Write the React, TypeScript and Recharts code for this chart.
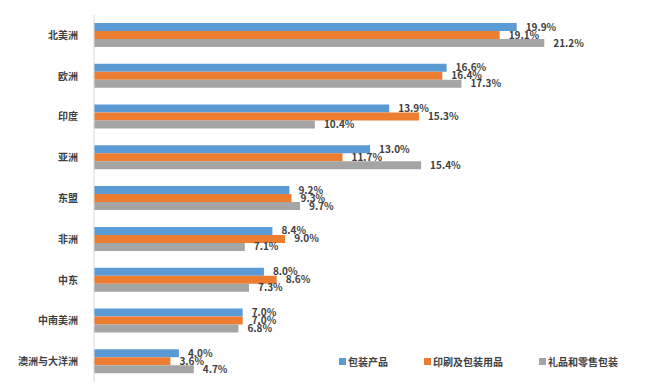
import React from 'react';
import { BarChart, Bar, XAxis, YAxis, LabelList } from 'recharts';

const regions = ['北美洲', '欧洲', '印度', '亚洲', '东盟', '非洲', '中东', '中南美洲', '澳洲与大洋洲'];
const packaging = [19.9, 16.6, 13.9, 13.0, 9.2, 8.4, 8.0, 7.0, 4.0];
const printing = [19.1, 16.4, 15.3, 11.7, 9.3, 9.0, 8.6, 7.0, 3.6];
const gift = [21.2, 17.3, 10.4, 15.4, 9.7, 7.1, 7.3, 6.8, 4.7];

const seriesNames = ['包装产品', '印刷及包装用品', '礼品和零售包装'];
const colors = ['#5B9BD5', '#ED7D31', '#A5A5A5'];

const data = regions.map((r, i) => ({
  region: r,
  packaging: packaging[i],
  printing: printing[i],
  gift: gift[i],
}));

const font = '"Noto Sans CJK SC", "Noto Sans", sans-serif';
const fmt = (v: number) => `${v.toFixed(1)}%`;

export default function App() {
  const keys = ['packaging', 'printing', 'gift'];
  return (
    <div style={{ position: 'absolute', left: 0, top: 0, width: 650, height: 390, background: '#fff' }}>
      <BarChart
        width={650}
        height={390}
        data={data}
        layout="vertical"
        margin={{ top: 15, right: 25, bottom: 8, left: 0 }}
        barGap={0}
      >
        <XAxis type="number" domain={[0, 25]} hide />
        <YAxis
          type="category"
          dataKey="region"
          width={94}
          axisLine={{ stroke: '#d9d9d9' }}
          tickLine={false}
          tick={{ fontSize: 10, fontWeight: 700, fill: '#404040', fontFamily: font }}
          tickMargin={10}
        />
        {keys.map((k, i) => (
          <Bar key={k} dataKey={k} name={seriesNames[i]} fill={colors[i]} barSize={8} isAnimationActive={false}>
            <LabelList
              dataKey={k}
              position="right"
              offset={9}
              formatter={(v: any) => fmt(Number(v))}
              style={{ fontSize: 10, fontWeight: 700, fill: '#404040', fontFamily: font }}
            />
          </Bar>
        ))}
      </BarChart>
      {/* legend sits inside the plot area, bottom right */}
      <div
        style={{
          position: 'absolute',
          left: 339,
          top: 354,
          width: 311,
          display: 'flex',
          whiteSpace: 'nowrap',
          fontFamily: font,
          fontSize: 10,
          fontWeight: 700,
          color: '#404040',
        }}
      >
        {seriesNames.map((n, i) => (
          <div key={n} style={{ display: 'flex', alignItems: 'center', marginRight: 36, flexShrink: 0 }}>
            <span style={{ width: 7, height: 7, background: colors[i], display: 'inline-block', marginRight: 2 }} />
            <span>{n}</span>
          </div>
        ))}
      </div>
    </div>
  );
}
